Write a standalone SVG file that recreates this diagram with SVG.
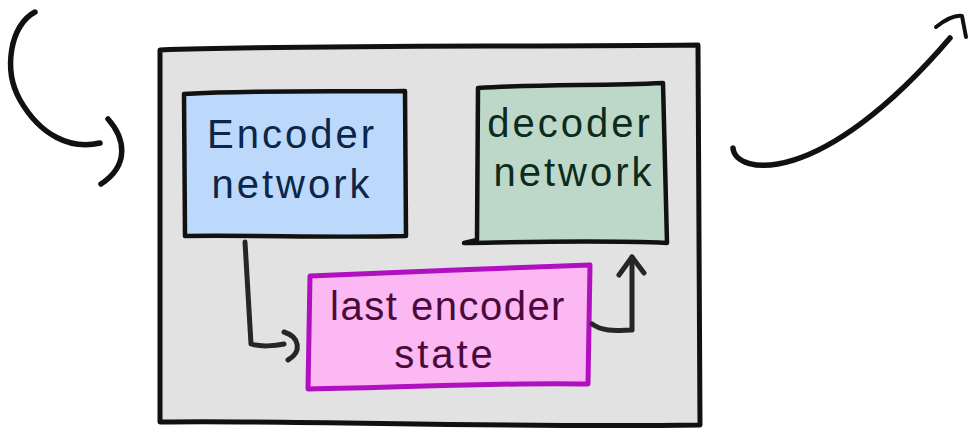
<svg xmlns="http://www.w3.org/2000/svg" width="971" height="433" viewBox="0 0 971 433">
<style>
.ink{fill:none;stroke:#111;stroke-linecap:round;stroke-linejoin:round}
.conn{fill:none;stroke:#262626;stroke-width:5;stroke-linecap:round;stroke-linejoin:round}
.lbl{font-family:"Liberation Sans","DejaVu Sans",sans-serif;font-size:40px;letter-spacing:3px;text-anchor:middle}
</style>
<rect width="971" height="433" fill="#fff"/>
<g id="input-arrow">
<path class="ink" stroke-width="5.5" d="M35,12 C10,25 3,70 20,100 C40,135 70,150 100,143"/>
<path class="ink" stroke-width="5.5" d="M108,119 C125,138 130,165 101,184"/>
</g>
<g id="container">
<path d="M160,50 C300,45 500,47 698,45 L700,425 C500,428 300,420 160,422 Z" fill="#e2e2e2" stroke="#111" stroke-width="5" stroke-linejoin="round"/>
</g>
<g id="encoder">
<path d="M184,94 C260,90 330,92 405,91 L406,236 C330,238 260,235 185,236 Z" fill="#bcd9fb" stroke="#111" stroke-width="4.5" stroke-linejoin="round"/>
<text class="lbl" x="292" y="148" fill="#0b2648">Encoder</text>
<text class="lbl" x="292" y="198" fill="#0b2648">network</text>
</g>
<g id="decoder">
<path d="M478,88 C540,84 600,86 663,83 L667,243 C600,240 530,242 464,243 L477,240 Z" fill="#bdd8c9" stroke="#111" stroke-width="4.5" stroke-linejoin="round"/>
<text class="lbl" x="570" y="137" fill="#0c2b1c">decoder</text>
<text class="lbl" x="574" y="186" fill="#0c2b1c">network</text>
</g>
<g id="state">
<path d="M310,276 C400,272 500,268 590,265 L588,384 C500,382 400,388 308,389 Z" fill="#fcb8f3" stroke="#b010c0" stroke-width="5" stroke-linejoin="round"/>
<text class="lbl" x="448" y="320" fill="#4a0b3a" style="letter-spacing:1.5px">last encoder</text>
<text class="lbl" x="445" y="368" fill="#4a0b3a">state</text>
</g>
<g id="connectors">
<path class="conn" d="M245,242 L251,344 C260,347 275,346 284,344"/>
<path class="conn" d="M284,332 C300,337 302,352 288,360"/>
<path class="conn" d="M592,324 C605,333 620,330 632,330 L632,257"/>
<path class="conn" d="M619,275 L632,257 L644,273"/>
<path class="ink" stroke-width="5.5" d="M733,148 C735,175 820,190 950,38"/>
<path class="ink" stroke-width="4" d="M936,27 C945,20 955,15 962,16 L966,37"/>
</g>
</svg>
